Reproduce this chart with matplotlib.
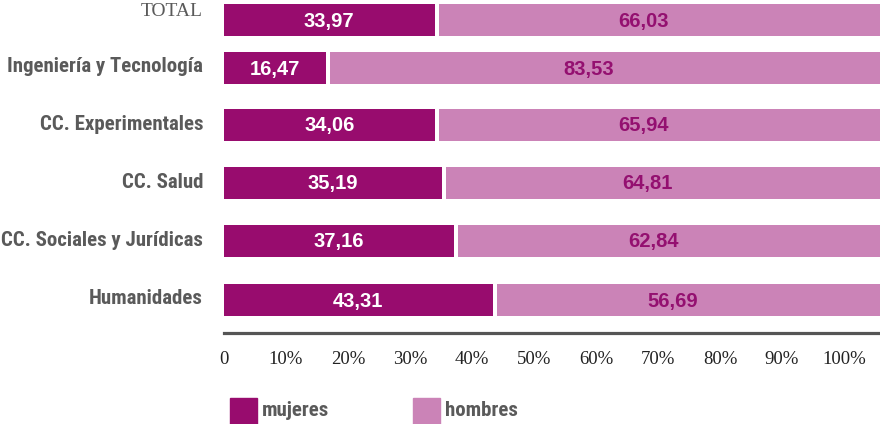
import matplotlib
matplotlib.use("Agg")
import matplotlib.pyplot as plt
from matplotlib.patches import Rectangle
from matplotlib import font_manager

categories = ["TOTAL", "Ingeniería y Tecnología", "CC. Experimentales",
              "CC. Salud", "CC. Sociales y Jurídicas", "Humanidades"]
mujeres = [33.97, 16.47, 34.06, 35.19, 37.16, 43.31]
hombres = [66.03, 83.53, 65.94, 64.81, 62.84, 56.69]
tick_values = [0, 10, 20, 30, 40, 50, 60, 70, 80, 90, 100]
tick_labels = ["0", "10%", "20%", "30%", "40%", "50%", "60%", "70%", "80%", "90%", "100%"]
legend_labels = ["mujeres", "hombres"]

# layout (pixel rows from top of figure)
ypos = [20, 68, 125, 183, 241, 300]
BAR_H = 32
GAP = 0.65
BLEED = 12

C_MUJ = "#980C6E"
C_HOM = "#CB83B7"
C_TXT_HOM = "#941070"
C_GRAY = "#5a5a5a"

installed = {f.name for f in font_manager.fontManager.ttflist}
cond = None
for cand in ["Liberation Sans Narrow", "Roboto Condensed", "Open Sans Condensed",
             "DejaVu Sans Condensed", "Noto Sans Condensed", "Arial Narrow", "Roboto"]:
    if cand in installed:
        cond = cand
        break
NARROW = [cond or "Liberation Sans", "DejaVu Sans"]
SANS = ["Liberation Sans", "DejaVu Sans"]
SERIF = ["Liberation Serif", "DejaVu Serif"]

W, H = 880, 424
fig = plt.figure(figsize=(W / 100, H / 100), dpi=100)
fig.patch.set_facecolor("white")
renderer = fig.canvas.get_renderer()

# font size so the longest category label spans ~198 px, as in the reference
probe = fig.text(0, 0, "Ingeniería y Tecnología", fontsize=14, fontweight="bold", family=NARROW)
wpx = probe.get_window_extent(renderer).width
probe.remove()
CAT_FS = min(15.5, 14 * 198 / wpx)

axis_y = 333
ax = fig.add_axes([224 / W, (H - axis_y) / H, (W - 224) / W, axis_y / H])
XMAX = 656 / 6.2
ax.set_xlim(0, XMAX)
ax.set_ylim(axis_y, 0)

for i, (cat, m, h, y) in enumerate(zip(categories, mujeres, hombres, ypos)):
    ax.barh(y, m, height=BAR_H, left=0, color=C_MUJ)
    left_h = m + GAP
    ax.barh(y, h + BLEED, height=BAR_H, left=left_h, color=C_HOM)
    ax.text(m / 2, y + 1, f"{m:.2f}".replace(".", ","), ha="center", va="center",
            color="white", fontsize=14.5, fontweight="bold", family=SANS)
    ax.text(left_h + h / 2, y + 1, f"{h:.2f}".replace(".", ","), ha="center", va="center",
            color=C_TXT_HOM, fontsize=14.5, fontweight="bold", family=SANS)
    if cat == "TOTAL":
        fig.text(203 / W, 1 - 12 / H, cat, ha="right", va="center",
                 color=C_GRAY, fontsize=14, family=SERIF)
    else:
        fig.text(203 / W, 1 - (y - 1) / H, cat, ha="right", va="center",
                 color=C_GRAY, fontsize=CAT_FS, fontweight="bold", family=NARROW)

for s in ["top", "right", "left"]:
    ax.spines[s].set_visible(False)
ax.spines["bottom"].set_color("#555555")
ax.spines["bottom"].set_linewidth(2.3)
ax.set_yticks([])
ax.set_xticks(tick_values)
ax.set_xticklabels(tick_labels, family=SERIF, fontsize=13.5, color="#222222")
ax.tick_params(axis="x", length=0, pad=13)

# legend
for lab, col, x0 in zip(legend_labels, [C_MUJ, C_HOM], [230, 413]):
    fig.patches.append(Rectangle((x0 / W, 0), 27 / W, 26 / H, transform=fig.transFigure,
                                 color=col, figure=fig))
    fig.text((x0 + 32) / W, 1 - 410 / H, lab, ha="left", va="center", color=C_GRAY,
             fontsize=CAT_FS, fontweight="bold", family=NARROW)

fig.savefig("out.png", dpi=100)
